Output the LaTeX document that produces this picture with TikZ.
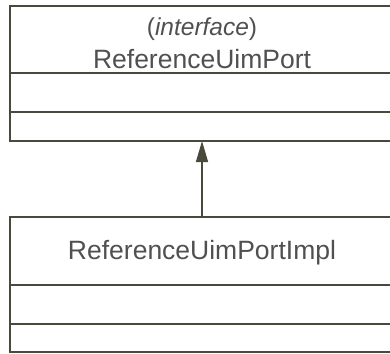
\documentclass[tikz,border=0pt]{standalone}
\usepackage{fontspec}
\setmainfont{Liberation Sans}
\usetikzlibrary{arrows.meta,positioning}
\definecolor{umlline}{HTML}{4A4A3C}
\definecolor{umltext}{HTML}{505050}
\tikzset{
  classpart/.style = {rectangle, draw=umlline, line width=1.5pt, inner sep=0pt,
    outer sep=0pt, minimum width=384pt, anchor=north west},% one compartment
  classname/.style = {text=umltext, inner sep=0pt, anchor=base,
    font=\fontsize{26.5}{30}\selectfont},
  stereo/.style = {classname, font=\fontsize{24.5}{28}\selectfont},
  realize/.style = {draw=umlline, line width=1.5pt,
    -{Triangle[width=12pt,length=21pt]}}
}

\begin{document}
\begin{tikzpicture}[x=1pt,y=-1pt]
        \clip (0,0) rectangle (390,353);
        % interface
        \node [classpart, minimum height=67pt] (portHead) at (10,6) {};
        \node [classpart, minimum height=39pt] (portAttr) at (portHead.south west) {};
        \node [classpart, minimum height=29pt] (portOps) at (portAttr.south west) {};
        \node [stereo] (iface) at (202,35) {(\textit{interface})};
        \node [classname] (port) at (202,68) {ReferenceUimPort};
        % implementation
        \node [classpart, minimum height=68pt] (implHead) at (10,217) {};
        \node [classpart, minimum height=39pt] (implAttr) at (implHead.south west) {};
        \node [classpart, minimum height=28pt] (implOps) at (implAttr.south west) {};
        \node [classname] (impl) at (202,259) {ReferenceUimPortImpl};
        \draw [realize] (implHead.north) -- (portOps.south);
\end{tikzpicture}
\end{document}
